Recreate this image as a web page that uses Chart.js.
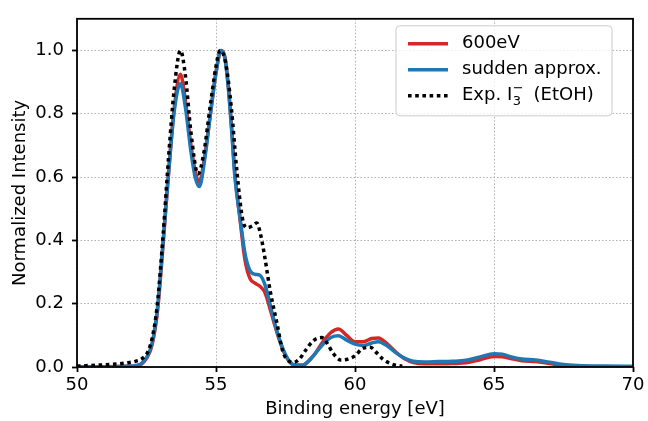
<!DOCTYPE html>
<html>
<head>
<meta charset="utf-8">
<script src="https://cdn.jsdelivr.net/npm/chart.js@4"></script>
<style>
  html, body { margin: 0; padding: 0; background: #fff; }
  canvas { display: block; }
</style>
</head>
<body>
<canvas id="spectrum" width="648" height="421"></canvas>
<script>
// energy grid of the calculated spectra (eV)
const calcEnergy = [
    50.0, 51.0, 51.8, 52.1, 52.3, 52.5, 52.7, 52.9, 53.1, 53.3, 53.5, 53.72, 53.9,
    54.1, 54.25, 54.4, 54.6, 54.8, 55.0, 55.18, 55.32, 55.44, 55.56, 55.68, 55.86,
    56.04, 56.22, 56.4, 56.58, 56.76, 56.94, 57.12, 57.3, 57.48, 57.66, 57.85, 58.1,
    58.5, 58.85, 59.15, 59.4, 59.7, 60.0, 60.3, 60.6, 60.85, 61.1, 61.5, 61.8, 62.1,
    62.5, 63.0, 63.5, 64.0, 64.5, 65.0, 65.3, 65.7, 66.0, 66.5, 67.0, 67.5, 68.0,
    69.0, 70.0
];

// 600 eV photon energy
const intensity600eV = [
    0.000, 0.001, 0.002, 0.003, 0.008, 0.027, 0.070, 0.180, 0.390, 0.620, 0.820, 0.925, 0.840,
    0.700, 0.620, 0.585, 0.670, 0.800, 0.930, 1.000, 0.980, 0.890, 0.760, 0.610, 0.470,
    0.340, 0.280, 0.265, 0.255, 0.235, 0.185, 0.130, 0.080, 0.040, 0.015, 0.005, 0.005,
    0.035, 0.080, 0.110, 0.120, 0.100, 0.080, 0.080, 0.090, 0.092, 0.078, 0.045, 0.025, 0.014,
    0.010, 0.010, 0.011, 0.013, 0.023, 0.033, 0.032, 0.025, 0.020, 0.017, 0.011, 0.005, 0.002,
    0.001, 0.001
];

// sudden approximation
const intensitySudden = [
    0.000, 0.001, 0.002, 0.004, 0.010, 0.030, 0.075, 0.190, 0.400, 0.620, 0.810, 0.895, 0.820,
    0.680, 0.600, 0.570, 0.660, 0.800, 0.930, 1.000, 0.975, 0.885, 0.750, 0.600, 0.475,
    0.360, 0.305, 0.293, 0.290, 0.260, 0.200, 0.136, 0.083, 0.043, 0.016, 0.006, 0.006,
    0.035, 0.072, 0.094, 0.099, 0.085, 0.072, 0.068, 0.076, 0.080, 0.070, 0.043, 0.027, 0.018,
    0.016, 0.017, 0.018, 0.021, 0.032, 0.042, 0.040, 0.030, 0.025, 0.022, 0.015, 0.008, 0.005,
    0.003, 0.002
];

// experimental I3- spectrum in ethanol
const expEnergy = [
    50.0, 50.5, 51.0, 51.5, 51.8, 52.1, 52.35, 52.55, 52.7, 52.88, 53.1, 53.3, 53.5,
    53.72, 53.9, 54.1, 54.35, 54.55, 54.8, 55.0, 55.15, 55.35, 55.55, 55.75, 55.95,
    56.1, 56.3, 56.47, 56.6, 56.75, 56.95, 57.2, 57.4, 57.6, 57.8, 58.0, 58.2, 58.5,
    58.8, 59.0, 59.2, 59.5, 59.75, 60.0, 60.25, 60.55, 60.8, 61.0, 61.3, 61.7
];
const intensityExp = [
    0.003, 0.005, 0.007, 0.010, 0.013, 0.018, 0.027, 0.048, 0.090, 0.190, 0.420, 0.670, 0.880,
    1.000, 0.920, 0.740, 0.610, 0.670, 0.830, 0.950, 1.000, 0.960, 0.820, 0.620, 0.470,
    0.440, 0.445, 0.455, 0.420, 0.350, 0.240, 0.135, 0.050, 0.020, 0.015, 0.025, 0.050, 0.083,
    0.093, 0.075, 0.045, 0.022, 0.025, 0.035, 0.057, 0.062, 0.043, 0.025, 0.010, 0.002
];

const xTickValues = [50, 55, 60, 65, 70];
const yTickValues = [0.0, 0.2, 0.4, 0.6, 0.8, 1.0];

const FONT = 'DejaVu Sans';

function toPoints(xs, ys) {
    return xs.map((x, i) => ({ x: x, y: ys[i] }));
}

// black frame on top of the curves
const framePlugin = {
    id: 'frame',
    afterDatasetsDraw(chart) {
        const { ctx, chartArea: a } = chart;
        ctx.save();
        ctx.strokeStyle = '#000';
        ctx.lineWidth = 1.8;
        ctx.strokeRect(a.left, a.top, a.right - a.left, a.bottom - a.top);
        ctx.restore();
    }
};

// legend box in the upper right, with sub/superscript for I3-
const legendPlugin = {
    id: 'boxLegend',
    afterDraw(chart) {
        const { ctx, chartArea: a } = chart;
        const bx = a.right - 237, by = a.top + 7, bw = 216, bh = 90;
        ctx.save();
        ctx.beginPath();
        ctx.roundRect(bx, by, bw, bh, 4);
        ctx.fillStyle = 'rgba(255,255,255,0.8)';
        ctx.fill();
        ctx.strokeStyle = '#cccccc';
        ctx.lineWidth = 1;
        ctx.stroke();

        const order = [0, 1, 2];
        order.forEach((di, row) => {
            const ds = chart.data.datasets[di];
            const y = by + 18 + row * 26;
            ctx.beginPath();
            ctx.setLineDash(ds.borderDash || []);
            ctx.lineCap = 'butt';
            ctx.strokeStyle = ds.borderColor;
            ctx.lineWidth = ds.borderWidth;
            ctx.moveTo(bx + 12, y);
            ctx.lineTo(bx + 52, y);
            ctx.stroke();
            ctx.setLineDash([]);

            ctx.fillStyle = '#000';
            ctx.textBaseline = 'middle';
            ctx.textAlign = 'left';
            ctx.font = '18px ' + FONT;
            let x = bx + 66;
            if (di !== 2) {
                ctx.fillText(ds.label, x, y);
                return;
            }
            ctx.fillText('Exp. I', x, y);
            x += ctx.measureText('Exp. I').width + 0.5;
            ctx.font = '13px ' + FONT;
            ctx.fillText('3', x, y + 6);
            ctx.fillText('\u2212', x, y - 7);
            x += Math.max(ctx.measureText('3').width, ctx.measureText('\u2212').width) + 10;
            ctx.font = '18px ' + FONT;
            ctx.fillText('(EtOH)', x, y);
        });
        ctx.restore();
    }
};

const ctx = document.getElementById('spectrum').getContext('2d');
new Chart(ctx, {
    type: 'line',
    data: {
        datasets: [
            {
                label: '600eV',
                data: toPoints(calcEnergy, intensity600eV),
                borderColor: '#d62728',
                borderWidth: 3.5,
                order: 3
            },
            {
                label: 'sudden approx.',
                data: toPoints(calcEnergy, intensitySudden),
                borderColor: '#1f77b4',
                borderWidth: 3.5,
                order: 2
            },
            {
                label: 'Exp. I3- (EtOH)',
                data: toPoints(expEnergy, intensityExp),
                borderColor: '#000000',
                borderWidth: 3.5,
                borderDash: [3.6, 3.6],
                order: 1
            }
        ]
    },
    options: {
        responsive: false,
        animation: false,
        devicePixelRatio: 1,
        layout: { padding: { top: 11, right: 15, left: 0, bottom: 0 } },
        elements: {
            point: { radius: 0 },
            line: { cubicInterpolationMode: 'monotone', borderCapStyle: 'butt', fill: false }
        },
        plugins: {
            legend: { display: false },
            tooltip: { enabled: false }
        },
        scales: {
            x: {
                type: 'linear',
                min: 50,
                max: 70,
                afterBuildTicks: s => { s.ticks = xTickValues.map(v => ({ value: v })); },
                afterFit: s => { s.height = 54; },
                ticks: {
                    color: '#000',
                    font: { family: FONT, size: 18 },
                    padding: 3,
                    maxRotation: 0,
                    callback: v => String(v)
                },
                grid: {
                    color: '#b0b0b0',
                    lineWidth: 1,
                    tickColor: '#000',
                    tickLength: 5,
                    tickWidth: 1.8,
                    tickBorderDash: []
                },
                border: { display: false, dash: [1.5, 2] },
                title: {
                    display: true,
                    text: 'Binding energy [eV]',
                    color: '#000',
                    font: { family: FONT, size: 18 },
                    padding: { top: 0, bottom: 1 }
                }
            },
            y: {
                type: 'linear',
                min: 0,
                max: 1.1,
                afterBuildTicks: s => { s.ticks = yTickValues.map(v => ({ value: v })); },
                afterFit: s => { s.width = 77; },
                ticks: {
                    color: '#000',
                    font: { family: FONT, size: 18 },
                    padding: 8,
                    callback: v => Number(v).toFixed(1)
                },
                grid: {
                    color: '#b0b0b0',
                    lineWidth: 1,
                    tickColor: '#000',
                    tickLength: 5,
                    tickWidth: 1.8,
                    tickBorderDash: []
                },
                border: { display: false, dash: [1.5, 2] },
                title: {
                    display: true,
                    text: 'Normalized Intensity',
                    color: '#000',
                    font: { family: FONT, size: 18 },
                    padding: { top: 10, bottom: 0 }
                }
            }
        }
    },
    plugins: [framePlugin, legendPlugin]
});
</script>
</body>
</html>
